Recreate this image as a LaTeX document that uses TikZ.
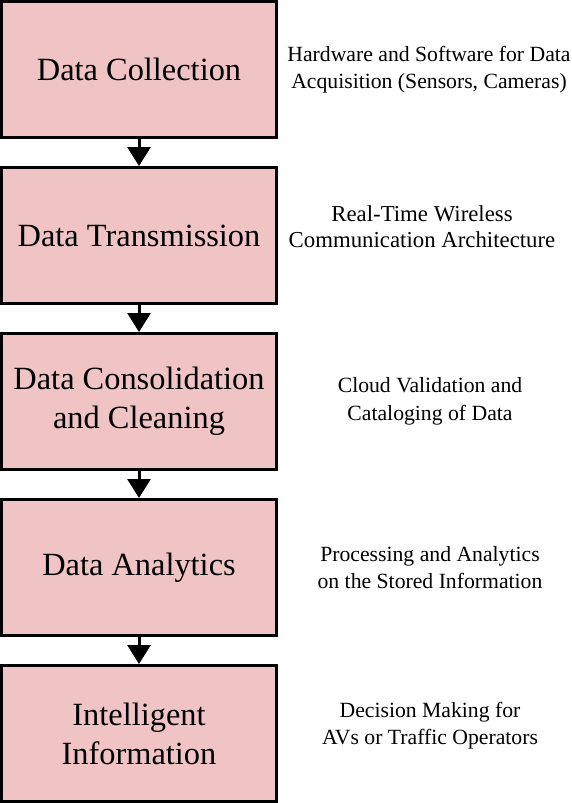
\documentclass[tikz,border=0pt]{standalone}
\usepackage{fontspec}
\setmainfont{Liberation Serif}
\usetikzlibrary{arrows.meta, positioning}
\definecolor{boxpink}{RGB}{240,196,196}

\begin{document}
\begin{tikzpicture}[
    stage/.style={draw, line width=3pt, fill=boxpink, minimum width=275pt, minimum height=136pt, align=center, font=\fontsize{32.4}{39}\selectfont},
    note/.style={align=center, font=\fontsize{21.7}{27.5}\selectfont},
    flow/.style={line width=3pt, -{Triangle[width=23pt, length=19pt]}}
  ]
  \useasboundingbox (0,0) rectangle (572pt,-803pt);

  % Stages
  \node[stage] (collect) at (139pt,-69.5pt) {Data Collection};
  \node[stage, below=27pt of collect] (transmit) {Data Transmission};
  \node[stage, below=27pt of transmit] (consol) {Data Consolidation\\and Cleaning};
  \node[stage, below=27pt of consol] (analytics) {Data Analytics};
  \node[stage, below=27pt of analytics] (intel) {Intelligent\\Information};

  % Descriptions
  \node[note] (collectnote) at ([xshift=290pt]collect.center) {Hardware and Software for Data\\Acquisition (Sensors, Cameras)};
  \node[note, font=\fontsize{22.8}{26.5}\selectfont] (transmitnote) at ([xshift=283pt, yshift=9pt]transmit.center) {Real-Time Wireless\\Communication Architecture};
  \node[note] (consolnote) at ([xshift=291pt]consol.center) {Cloud Validation and\\Cataloging of Data};
  \node[note] (analyticsnote) at ([xshift=291pt]analytics.center) {Processing and Analytics\\on the Stored Information};
  \node[note] (intelnote) at ([xshift=291pt, yshift=8pt]intel.center) {Decision Making for\\AVs or Traffic Operators};

  % Arrows
  \draw[flow] (collect) -- (transmit);
  \draw[flow] (transmit) -- (consol);
  \draw[flow] (consol) -- (analytics);
  \draw[flow] (analytics) -- (intel);
\end{tikzpicture}
\end{document}
